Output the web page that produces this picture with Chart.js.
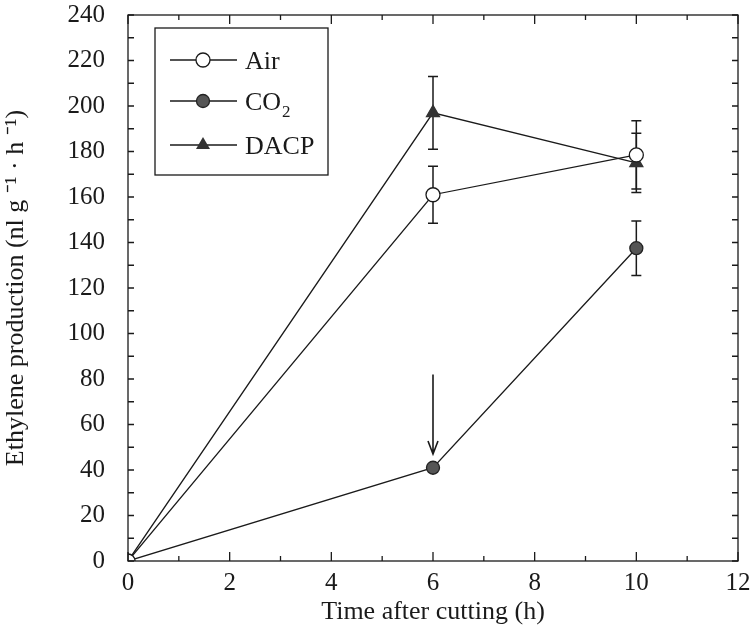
<!DOCTYPE html>
<html>
<head>
<meta charset="utf-8">
<script src="https://cdn.jsdelivr.net/npm/chart.js@4.4.1/dist/chart.umd.min.js"></script>
<style>
  html, body { margin: 0; padding: 0; background: #fff; }
  #wrap { width: 752px; height: 631px; }
</style>
</head>
<body>
<div id="wrap"><canvas id="c" width="752" height="631"></canvas></div>
<script>
// ---- data ----
const times = [0, 6, 10];
const airValues = [0, 161, 178.5];
const airErrors = [0, 12.5, 15];
const co2Values = [0, 41, 137.5];
const co2Errors = [0, 0, 12];
const dacpValues = [0, 197, 175];
const dacpErrors = [0, 16, 13];
const seriesNames = ['Air', 'CO2', 'DACP'];
const xTickValues = [0, 2, 4, 6, 8, 10, 12];
const yTickValues = [0, 20, 40, 60, 80, 100, 120, 140, 160, 180, 200, 220, 240];
const arrowX = 6, arrowFrom = 82, arrowTo = 47;

const FONT = '"Liberation Serif", "Times New Roman", serif';
const INK = '#1a1a1a';

function pts(vals) { return times.map((t, i) => ({ x: t, y: vals[i] })); }

const errPlugin = {
  id: 'errbars',
  beforeDatasetsDraw(chart) {
    const ctx = chart.ctx, xs = chart.scales.x, ys = chart.scales.y;
    const errs = [airErrors, co2Errors, dacpErrors];
    const vals = [airValues, co2Values, dacpValues];
    ctx.save();
    ctx.strokeStyle = INK; ctx.lineWidth = 1.5;
    errs.forEach((e, s) => {
      times.forEach((t, i) => {
        if (!e[i]) return;
        const px = xs.getPixelForValue(t);
        const top = ys.getPixelForValue(vals[s][i] + e[i]);
        const bot = ys.getPixelForValue(vals[s][i] - e[i]);
        ctx.beginPath();
        ctx.moveTo(px, top); ctx.lineTo(px, bot);
        ctx.moveTo(px - 5, top); ctx.lineTo(px + 5, top);
        ctx.moveTo(px - 5, bot); ctx.lineTo(px + 5, bot);
        ctx.stroke();
      });
    });
    ctx.restore();
  }
};

const framePlugin = {
  id: 'frame',
  afterDraw(chart) {
    const ctx = chart.ctx, a = chart.chartArea, xs = chart.scales.x, ys = chart.scales.y;
    ctx.save();
    ctx.strokeStyle = INK; ctx.lineWidth = 1.3;
    ctx.strokeRect(a.left, a.top, a.right - a.left, a.bottom - a.top);
    ctx.beginPath();
    for (let v = xs.min; v <= xs.max; v += 1) {
      const px = xs.getPixelForValue(v);
      const len = (v % 2 === 0) ? 9 : 5;
      ctx.moveTo(px, a.bottom); ctx.lineTo(px, a.bottom - len);
      ctx.moveTo(px, a.top); ctx.lineTo(px, a.top + len);
    }
    for (let v = ys.min; v <= ys.max; v += 10) {
      const py = ys.getPixelForValue(v);
      const len = 6;
      ctx.moveTo(a.left, py); ctx.lineTo(a.left + len, py);
      ctx.moveTo(a.right, py); ctx.lineTo(a.right - len, py);
    }
    ctx.stroke();

    // arrow
    const ax = xs.getPixelForValue(arrowX);
    const ay1 = ys.getPixelForValue(arrowFrom);
    const ay2 = ys.getPixelForValue(arrowTo);
    ctx.lineWidth = 1.6;
    ctx.beginPath();
    ctx.moveTo(ax, ay1); ctx.lineTo(ax, ay2);
    ctx.moveTo(ax - 5, ay2 - 13); ctx.lineTo(ax, ay2); ctx.lineTo(ax + 5, ay2 - 13);
    ctx.stroke();

    // legend
    const bx = a.left + 27, by = a.top + 13, bw = 173, bh = 147;
    ctx.lineWidth = 1.3;
    ctx.strokeRect(bx, by, bw, bh);
    const rows = [by + 32, by + 73, by + 117];
    const styles = chart.data.datasets;
    rows.forEach((ry, i) => {
      ctx.beginPath();
      ctx.strokeStyle = INK; ctx.lineWidth = 1.3;
      ctx.moveTo(bx + 15, ry); ctx.lineTo(bx + 82, ry);
      ctx.stroke();
      const ds = styles[i];
      const mx = bx + 48;
      ctx.lineWidth = 1.3;
      if (i === 0) {
        ctx.beginPath(); ctx.arc(mx, ry, 7, 0, Math.PI * 2);
        ctx.fillStyle = '#fff'; ctx.fill(); ctx.stroke();
      } else if (i === 1) {
        ctx.beginPath(); ctx.arc(mx, ry, 6.5, 0, Math.PI * 2);
        ctx.fillStyle = ds.pointBackgroundColor; ctx.fill();
        ctx.strokeStyle = ds.pointBorderColor; ctx.stroke();
      } else {
        ctx.beginPath();
        ctx.moveTo(mx, ry - 8); ctx.lineTo(mx + 7, ry + 4); ctx.lineTo(mx - 7, ry + 4); ctx.closePath();
        ctx.fillStyle = ds.pointBackgroundColor; ctx.fill();
      }
      ctx.fillStyle = INK;
      ctx.font = '26px ' + FONT;
      ctx.textBaseline = 'alphabetic';
      ctx.textAlign = 'left';
      const tx = bx + 90, ty = ry + 9;
      if (i === 1) {
        ctx.fillText('CO', tx, ty);
        const w = ctx.measureText('CO').width;
        ctx.font = '17px ' + FONT;
        ctx.fillText('2', tx + w + 1, ty + 7);
      } else {
        ctx.fillText(seriesNames[i], tx, ty);
      }
    });
    ctx.restore();
  }
};

const common = {
  borderColor: INK, borderWidth: 1.3, showLine: true, tension: 0,
  pointBorderWidth: 1.3
};

new Chart(document.getElementById('c'), {
  type: 'scatter',
  data: {
    datasets: [
      Object.assign({}, common, {
        label: seriesNames[0], data: pts(airValues),
        pointStyle: 'circle', pointRadius: 7, pointBackgroundColor: '#fff', pointBorderColor: INK
      }),
      Object.assign({}, common, {
        label: seriesNames[1], data: pts(co2Values),
        pointStyle: 'circle', pointRadius: 6.5, pointBackgroundColor: '#555', pointBorderColor: '#222'
      }),
      Object.assign({}, common, {
        label: seriesNames[2], data: pts(dacpValues),
        pointStyle: 'triangle', pointRadius: 7.5, pointBackgroundColor: '#333', pointBorderColor: '#333'
      })
    ]
  },
  options: {
    responsive: false,
    animation: false,
    devicePixelRatio: 1,
    layout: { padding: { top: 15, right: 14, left: 0, bottom: 0 } },
    plugins: { legend: { display: false }, tooltip: { enabled: false } },
    scales: {
      x: {
        type: 'linear', min: 0, max: 12,
        afterFit(s) { s.height = 70; s.paddingLeft = 0; s.paddingRight = 0; },
        afterBuildTicks(s) { s.ticks = xTickValues.map(v => ({ value: v })); },
        grid: { display: false, drawTicks: false },
        border: { display: false },
        ticks: { color: INK, font: { family: FONT, size: 25 }, padding: 7, maxRotation: 0 },
        title: { display: true, text: 'Time after cutting (h)', color: INK,
                 font: { family: FONT, size: 26 }, padding: { top: 0, bottom: 3 } }
      },
      y: {
        type: 'linear', min: 0, max: 240,
        afterFit(s) { s.width = 128; s.paddingTop = 0; s.paddingBottom = 0; },
        afterBuildTicks(s) { s.ticks = yTickValues.map(v => ({ value: v })); },
        grid: { display: false, drawTicks: false },
        border: { display: false },
        ticks: { color: INK, font: { family: FONT, size: 25 }, padding: 23 },
        title: { display: true, text: 'Ethylene production (nl g \u207B\u00B9 \u00B7 h \u207B\u00B9)', color: INK,
                 font: { family: FONT, size: 26 }, padding: { top: 1, bottom: 0 } }
      }
    }
  },
  plugins: [errPlugin, framePlugin]
});
</script>
</body>
</html>
